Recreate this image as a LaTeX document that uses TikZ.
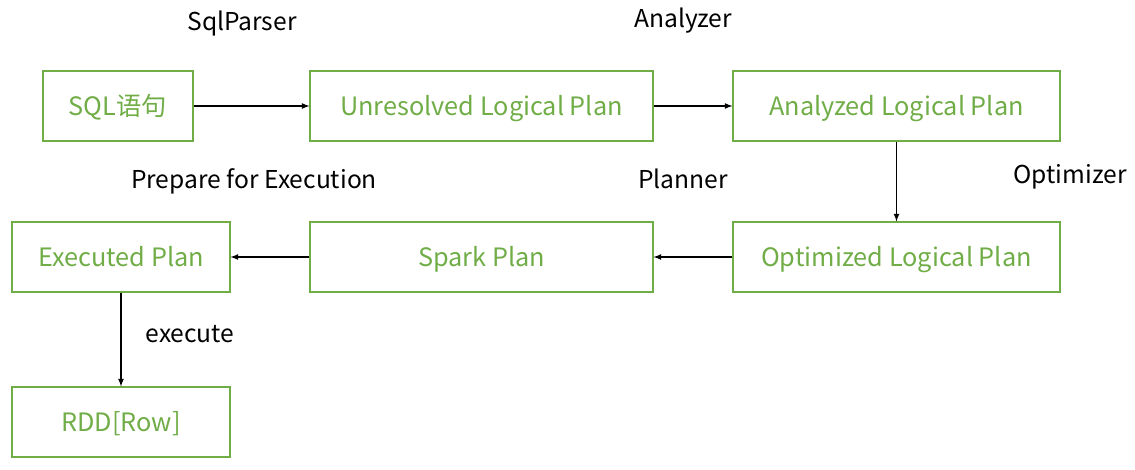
\documentclass[tikz,border=0pt]{standalone}
\usepackage{fontspec}
\setmainfont{Noto Sans CJK SC}
\usepackage{tikz}

\definecolor{officegreen}{RGB}{112,173,71}
\tikzset{
	plan/.style={draw=officegreen, text=officegreen, line width=0.8pt, minimum height=1.75cm, inner sep=0pt, text height=1.3em, text depth=0em, font=\fontsize{18}{21}\selectfont},
	step label/.style={font=\fontsize{17.5}{20}\selectfont},
	flow/.style={-latex, line width=0.85pt}
}

\begin{document}
\begin{tikzpicture}
		\useasboundingbox (0,0) rectangle (28.375,-11.75);
		
		\node[plan, minimum width=3.75cm] (sql) at (2.95,-2.65) {SQL语句};
		\node[plan, minimum width=8.575cm] (unresolved) at (12.0375,-2.65) {Unresolved Logical Plan};
		\node[plan, minimum width=8.175cm] (analyzed) at (22.4125,-2.65) {Analyzed Logical Plan};
		
		\node[plan, minimum width=8.175cm] (optimized) at (22.4125,-6.425) {Optimized Logical Plan};
		\node[plan, minimum width=8.575cm] (spark) at (12.0375,-6.425) {Spark Plan};
		\node[plan, minimum width=5.45cm] (executed) at (3.025,-6.425) {Executed Plan};
		
		\node[plan, minimum width=5.45cm] (rdd) at (3.025,-10.55) {RDD[Row]};
		
		\node[step label] (sqlparser) at (6.05,-0.6) {SqlParser};
		\node[step label] (analyzer) at (17.075,-0.525) {Analyzer};
		\node[step label] (optimizer) at (26.75,-4.425) {Optimizer};
		\node[step label] (planner) at (17.075,-4.475) {Planner};
		\node[step label] (prepare) at (6.35,-4.525) {Prepare for Execution};
		\node[step label] (execute) at (4.75,-8.35) {execute};
		
		\draw[flow] (sql) -- (unresolved);
		\draw[flow] (unresolved) -- (analyzed);
		\draw[flow] (analyzed) -- (optimized);
		\draw[flow] (optimized) -- (spark);
		\draw[flow] (spark) -- (executed);
		\draw[flow] (executed) -- (rdd);
	\end{tikzpicture}
\end{document}
